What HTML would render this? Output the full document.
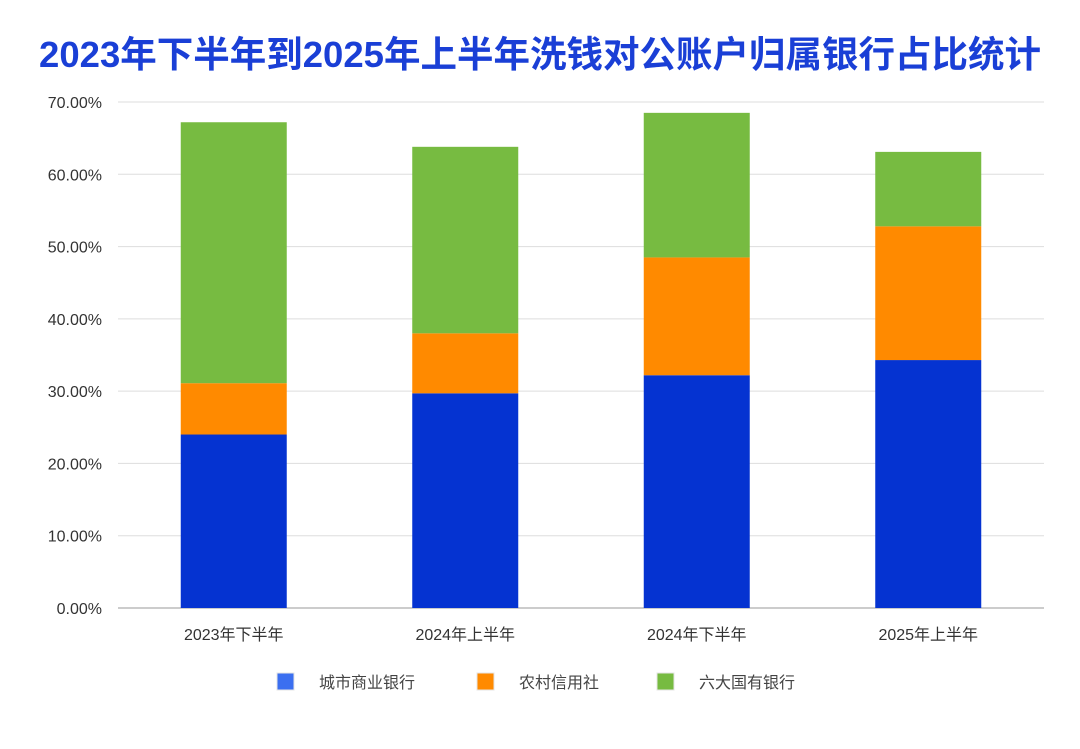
<!DOCTYPE html>
<html><head><meta charset="utf-8"><style>
html,body{margin:0;padding:0;background:#fff;}
body{width:1080px;height:744px;overflow:hidden;font-family:"Liberation Sans","Noto Sans CJK SC",sans-serif;}
</style></head><body>
<svg id="c" width="1080" height="744" xmlns="http://www.w3.org/2000/svg">
<text x="540" y="67" text-anchor="middle" font-size="36.5" font-weight="bold" fill="#1a3fd6" font-family="Liberation Sans, Noto Sans CJK SC, sans-serif">2023年下半年到2025年上半年洗钱对公账户归属银行占比统计</text>
</svg>
<script>
const categories=["2023年下半年","2024年上半年","2024年下半年","2025年上半年"];
const cityBank=[24.0,29.7,32.2,34.3];
const ruralCoop=[7.1,8.3,16.3,18.5];
const bigSix=[36.1,25.8,20.0,10.3];
const ticks=[0,10,20,30,40,50,60,70];
const seriesNames=["城市商业银行","农村信用社","六大国有银行"];
const colors=["#0533d1","#ff8a00","#77bb41"];
const legendColors=["#3b6ff0","#ff8a00","#77bb41"];
const svg=document.getElementById('c');const NS="http://www.w3.org/2000/svg";
const L=118,R=1044,T=102,B=608,ymax=70;
const y=v=>B-(v/ymax)*(B-T);
const bw=(R-L)/categories.length;
const x=i=>L+bw*(i+0.5);
function mk(t,a){const e=document.createElementNS(NS,t);for(const k in a)e.setAttribute(k,a[k]);svg.appendChild(e);return e;}
ticks.forEach(t=>{
 const g=mk('line',{x1:L,x2:R,y1:y(t),y2:y(t),stroke:t===0?'#999':'#ddd','stroke-width':1});
 
 
 const tx=mk('text',{x:102,y:y(t)+6,'text-anchor':'end','font-size':16,fill:'#333'});
 tx.textContent=t.toFixed(2)+'%';
 
 
});
const series=[cityBank,ruralCoop,bigSix];
categories.forEach((c,i)=>{
 let base=0;
 series.forEach((s,j)=>{
  const r=mk('rect',{x:x(i)-53,width:106,y:y(base+s[i]),height:y(base)-y(base+s[i]),fill:colors[j]});
  
  
  base+=s[i];
 });
 const tx=mk('text',{x:x(i),y:640,'text-anchor':'middle','font-size':16,fill:'#333'});
 tx.textContent=c;
 
 
});
const lx=[277,477,657];
seriesNames.forEach((n,j)=>{
 const r=mk('rect',{x:lx[j],y:673,width:17,height:17,fill:legendColors[j],stroke:'#e4e4e4','stroke-width':1});
 
 
 const tx=mk('text',{x:lx[j]+42,y:688,'font-size':16,fill:'#444'});
 tx.textContent=n;
 
 
});
</script>
</body></html>
